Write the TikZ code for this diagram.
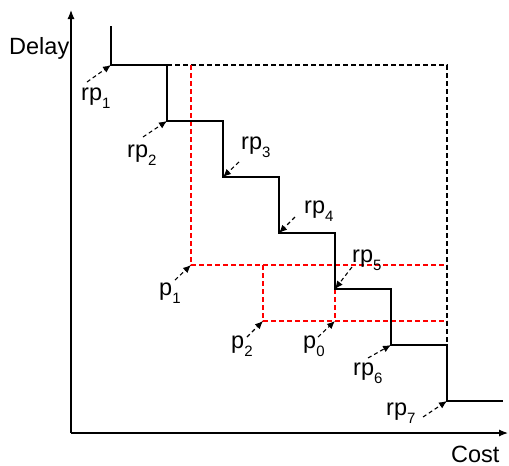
\documentclass[tikz,border=0pt]{standalone}
\usepackage{fontspec}
\setmainfont{Liberation Sans}
\usetikzlibrary{arrows.meta}
\definecolor{dred}{RGB}{255,0,0}
\newcommand\mysubs[1]{\raisebox{-8pt}{\fontsize{15}{15}\selectfont #1}}
\tikzset{
  lbl/.style={anchor=base west,inner sep=0pt,font=\fontsize{23.5}{27}\selectfont},
  stair/.style={line width=1.3pt,black},
  bdash/.style={line width=1.1pt,black,dash pattern=on 5pt off 3pt},
  rdash/.style={line width=1.3pt,dred,dash pattern=on 5pt off 3pt},
  ptr/.style={line width=1.1pt,black,dash pattern=on 4pt off 3pt,-{Latex[length=8pt,width=7pt]}},
  axis/.style={line width=1.2pt,black,-{Latex[length=9pt,width=7pt]}}
}
\begin{document}
\begin{tikzpicture}[x=1pt,y=-1pt]
\useasboundingbox (0,0) rectangle (509,466);
% corner points
\coordinate (top) at (111,26);
\coordinate (r1) at (111,65);
\coordinate (a1) at (167,65);
\coordinate (r2) at (167,121);
\coordinate (a2) at (223,121);
\coordinate (r3) at (223,177);
\coordinate (a3) at (279,177);
\coordinate (r4) at (279,233);
\coordinate (a4) at (335,233);
\coordinate (r5) at (335,289);
\coordinate (a5) at (391,289);
\coordinate (r6) at (391,345);
\coordinate (a6) at (447,345);
\coordinate (r7) at (447,401);
\coordinate (end) at (503,401);
\coordinate (bx) at (447,65);
\coordinate (p1) at (191,265);
\coordinate (p1t) at (191,65);
\coordinate (e1) at (447,265);
\coordinate (p2) at (263,321);
\coordinate (p2t) at (263,265);
\coordinate (p0) at (335,321);
\coordinate (e2) at (447,321);
\coordinate (o) at (71,433);
\coordinate (ytip) at (71,10);
\coordinate (xtip) at (508,433);
% axes
\draw[axis] (o) -- (ytip);
\draw[axis] (o) -- (xtip);
% dashed boxes
\draw[bdash] (a1) -- (bx) -- (a6);
\draw[rdash] (p1t) -- (p1) -- (e1);
\draw[rdash] (p2t) -- (p2) -- (e2);
\draw[rdash] (r5) -- (p0);
% staircase
\draw[stair] (top) -- (r1) -- (a1) -- (r2) -- (a2) -- (r3) -- (a3) -- (r4) -- (a4) -- (r5) -- (a5) -- (r6) -- (a6) -- (r7) -- (end);
% labels
\node[lbl] (ldelay) at (9,54) {Delay};
\node[lbl] (lcost) at (451,462) {Cost};
\node[lbl] (lrp1) at (81,100) {rp\mysubs{1}};
\node[lbl] (lrp2) at (127,157) {rp\mysubs{2}};
\node[lbl] (lrp3) at (241,149) {rp\mysubs{3}};
\node[lbl] (lrp4) at (304,213) {rp\mysubs{4}};
\node[lbl] (lrp5) at (352,262) {rp\mysubs{5}};
\node[lbl] (lrp6) at (353,375) {rp\mysubs{6}};
\node[lbl] (lrp7) at (386,415) {rp\mysubs{7}};
\node[lbl] (lp1) at (159,295) {p\mysubs{1}};
\node[lbl] (lp2) at (231,348) {p\mysubs{2}};
\node[lbl] (lp0) at (303,348) {p\mysubs{0}};
% pointer starts
\coordinate (s1) at (87,82);
\coordinate (s2) at (143,137);
\coordinate (s3) at (239,162);
\coordinate (s4) at (295,217);
\coordinate (s5) at (352,267);
\coordinate (s6) at (368,358);
\coordinate (s7) at (423,417);
\coordinate (sp1) at (175,280);
\coordinate (sp2) at (247,337);
\coordinate (sp0) at (318,337);
\draw[ptr] (s1) -- (r1);
\draw[ptr] (s2) -- (r2);
\draw[ptr] (s3) -- (r3);
\draw[ptr] (s4) -- (r4);
\draw[ptr] (s5) -- (r5);
\draw[ptr] (s6) -- (r6);
\draw[ptr] (s7) -- (r7);
\draw[ptr] (sp1) -- (p1);
\draw[ptr] (sp2) -- (p2);
\draw[ptr] (sp0) -- (p0);
\end{tikzpicture}
\end{document}
